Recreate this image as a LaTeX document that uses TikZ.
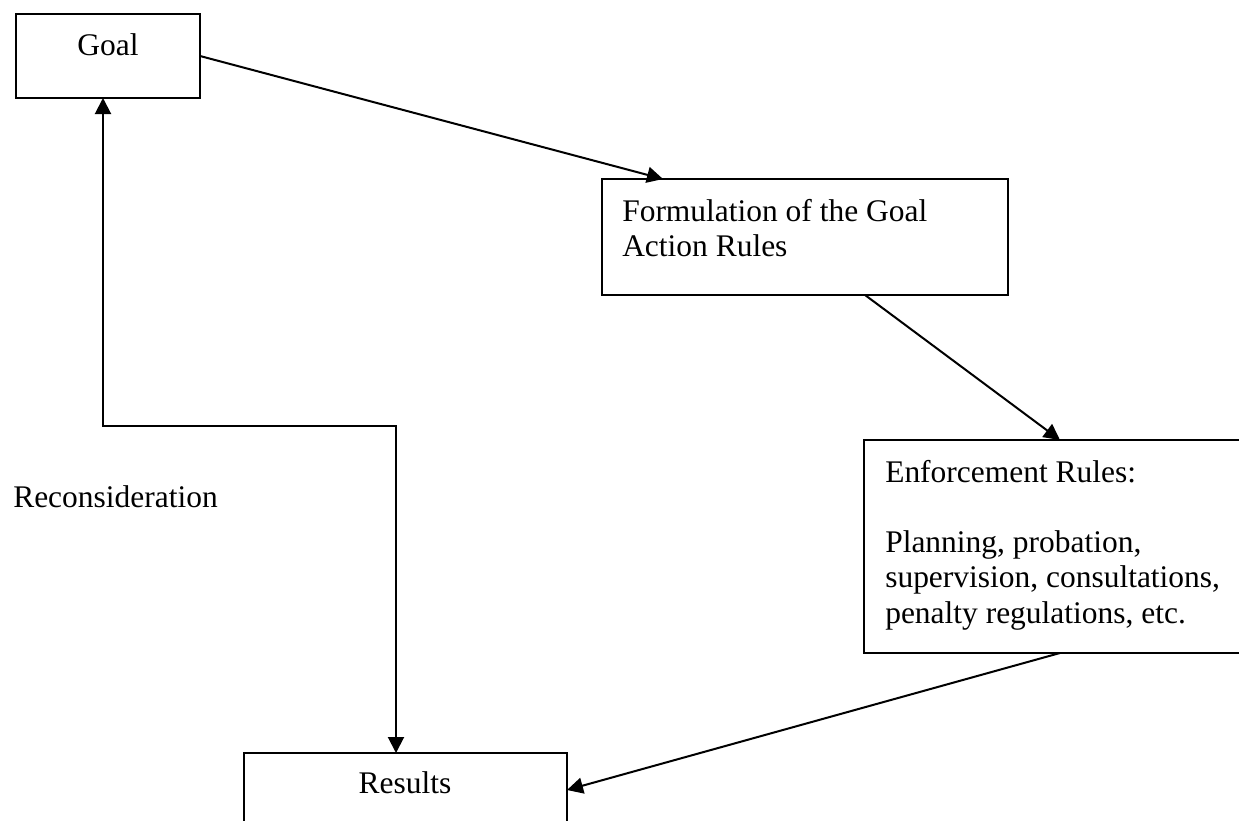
\documentclass[tikz,border=0pt]{standalone}
\usepackage{fontspec}
\setmainfont{Liberation Serif}
\usetikzlibrary{arrows.meta,fit}
\begin{document}
\begin{tikzpicture}[x=0.75pt,y=-0.75pt,
  box/.style={draw,line width=1.5pt,inner sep=0pt},
  txt/.style={inner sep=0pt,font=\fontsize{23.6}{26.5}\selectfont},
  arr/.style={line width=1.5pt,-{Triangle[length=12pt,width=12pt]}},
  darr/.style={line width=1.5pt,{Triangle[length=12pt,width=12pt]}-{Triangle[length=12pt,width=12pt]}}]
\useasboundingbox (0,0) rectangle (1239,821);
% boxes
\node[box,fit={(16,14) (200,98)}] (goal) {};
\node[box,fit={(602,179) (1008,295)}] (form) {};
\node[box,fit={(864,440) (1250,653)}] (enf) {};
\node[box,fit={(244,753) (567,840)}] (res) {};
% texts
\node[txt,anchor=base] (goalt) at (108,55) {Goal};
\node[txt,anchor=base west] (form1) at (622,221) {Formulation of the Goal};
\node[txt,anchor=base west] (form2) at (622,256) {Action Rules};
\node[txt,anchor=base west] (enf1) at (885,482) {Enforcement Rules:};
\node[txt,anchor=base west] (enf2) at (885,552) {Planning, probation,};
\node[txt,anchor=base west] (enf3) at (885,587) {supervision, consultations,};
\node[txt,anchor=base west] (enf4) at (885,623) {penalty regulations, etc.};
\node[txt,anchor=base] (rest) at (405,793) {Results};
\node[txt,anchor=base west] (recon) at (13,507) {Reconsideration};
% connector points on box borders
\coordinate (goalR) at (200,56);
\coordinate (formT) at (663,179);
\coordinate (formB) at (865,295);
\coordinate (enfT) at (1060,440);
\coordinate (enfB) at (1060,653);
\coordinate (resR) at (567,790);
\coordinate (resT) at (396,753);
\coordinate (goalB) at (103,98);
\coordinate (c1) at (103,426);
\coordinate (c2) at (396,426);
% connectors
\draw[arr] (goalR) -- (formT);
\draw[arr] (formB) -- (enfT);
\draw[arr] (enfB) -- (resR);
\draw[darr] (goalB) -- (c1) -- (c2) -- (resT);
\end{tikzpicture}
\end{document}
